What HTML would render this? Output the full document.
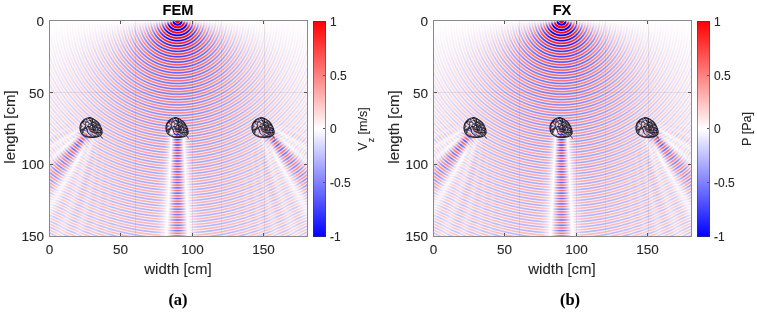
<!DOCTYPE html>
<html><head><meta charset="utf-8">
<style>
*{margin:0;padding:0;box-sizing:border-box}
html,body{width:757px;height:312px;overflow:hidden;background:#fff}
body{-webkit-font-smoothing:antialiased;-webkit-text-stroke:0.1px #262626;position:relative;font-family:"Liberation Sans",sans-serif;color:#262626}
.pn{position:absolute;left:0;top:0;width:757px;height:312px;will-change:transform}
.fld{position:absolute;left:50px;top:21px;width:257px;height:215px;filter:blur(0.4px)}
.box{position:absolute;left:49px;top:20px;width:259px;height:217px;border:1px solid #8a8a8a}
.tk{position:absolute;background:#555}
.gl{position:absolute;background:rgba(40,40,40,.09)}
.lb{position:absolute;font-size:13.5px;line-height:14px;white-space:nowrap}
.ttl{position:absolute;font-weight:bold;font-size:14.6px;line-height:15px;color:#000;white-space:nowrap}
.axl{position:absolute;font-size:15px;line-height:15px;white-space:nowrap}
.cbl{position:absolute;font-size:12.5px;line-height:13px;white-space:nowrap}
.cb{position:absolute;left:313px;top:21px;width:13px;height:216px;border:1px solid rgba(60,60,60,.55);
 background:linear-gradient(to bottom,#ff0000,#ffffff 50%,#0000ff);background-origin:border-box}
.cl{position:absolute;font-size:12px;line-height:12px;white-space:nowrap}
.sub{position:absolute;font-family:"Liberation Serif",serif;font-weight:bold;font-size:16.5px;line-height:17px;color:#000}
.rot{transform-origin:0 0;transform:rotate(-90deg)}
svg{position:absolute;left:0;top:0}
</style></head><body>
<div class="pn" id="p1">
 <canvas class="fld" id="c1" width="257" height="215"></canvas>
 <div class="gl" style="left:135px;top:21px;width:1px;height:215px"></div>
 <div class="gl" style="left:192px;top:21px;width:1px;height:215px"></div>
 <div class="gl" style="left:221px;top:21px;width:1px;height:215px;opacity:.7"></div>
 <div class="gl" style="left:264px;top:21px;width:1px;height:215px"></div>
 <div class="gl" style="left:50px;top:92px;width:257px;height:1px"></div>
 <div class="box"></div>
 <div class="tk" style="left:120px;top:233px;width:1px;height:3px"></div>
 <div class="tk" style="left:120px;top:21px;width:1px;height:3px"></div>
 <div class="tk" style="left:192px;top:233px;width:1px;height:3px"></div>
 <div class="tk" style="left:192px;top:21px;width:1px;height:3px"></div>
 <div class="tk" style="left:263px;top:233px;width:1px;height:3px"></div>
 <div class="tk" style="left:263px;top:21px;width:1px;height:3px"></div>
 <div class="tk" style="left:50px;top:92px;width:3px;height:1px"></div>
 <div class="tk" style="left:304px;top:92px;width:3px;height:1px"></div>
 <div class="tk" style="left:50px;top:164px;width:3px;height:1px"></div>
 <div class="tk" style="left:304px;top:164px;width:3px;height:1px"></div>
 <div class="lb xl" style="left:29px;top:243px;width:41px;text-align:center">0</div>
 <div class="lb xl" style="left:100px;top:243px;width:41px;text-align:center">50</div>
 <div class="lb xl" style="left:172px;top:243px;width:41px;text-align:center">100</div>
 <div class="lb xl" style="left:243px;top:243px;width:41px;text-align:center">150</div>
 <div class="lb yl" style="left:-1px;top:14.5px;width:45px;text-align:right">0</div>
 <div class="lb yl" style="left:-1px;top:86.5px;width:45px;text-align:right">50</div>
 <div class="lb yl" style="left:-1px;top:157.7px;width:45px;text-align:right">100</div>
 <div class="lb yl" style="left:-1px;top:229.5px;width:45px;text-align:right">150</div>
 <div class="ttl" style="left:128px;top:3px;width:100px;text-align:center">FEM</div>
 <div class="axl" style="left:128px;top:261px;width:100px;text-align:center">width [cm]</div>
 <div class="axl rot" style="left:2px;top:177px;width:100px;text-align:center">length [cm]</div>
 <div class="cb"></div>
 <div class="cl" style="left:330px;top:16px">1</div>
 <div class="cl" style="left:330px;top:70px">0.5</div>
 <div class="cl" style="left:330px;top:123px">0</div>
 <div class="cl" style="left:330px;top:177px">-0.5</div>
 <div class="cl" style="left:330px;top:231px">-1</div>
 <div class="tk" style="left:323px;top:75px;width:2px;height:1px"></div>
 <div class="tk" style="left:323px;top:128px;width:2px;height:1px"></div>
 <div class="tk" style="left:323px;top:182px;width:2px;height:1px"></div>
 <div class="cbl rot" style="left:356.5px;top:179px;width:100px;text-align:center">V<span style="font-size:9px;position:relative;top:6.5px">z</span> [m/s]</div>
 <div class="sub" style="left:128px;top:291px;width:100px;text-align:center">(a)</div>
</div>
<div class="pn" id="p2" style="left:384px">
 <canvas class="fld" id="c2" width="257" height="215"></canvas>
 <div class="gl" style="left:135px;top:21px;width:1px;height:215px"></div>
 <div class="gl" style="left:192px;top:21px;width:1px;height:215px"></div>
 <div class="gl" style="left:221px;top:21px;width:1px;height:215px;opacity:.7"></div>
 <div class="gl" style="left:264px;top:21px;width:1px;height:215px"></div>
 <div class="gl" style="left:50px;top:92px;width:257px;height:1px"></div>
 <div class="box"></div>
 <div class="tk" style="left:120px;top:233px;width:1px;height:3px"></div>
 <div class="tk" style="left:120px;top:21px;width:1px;height:3px"></div>
 <div class="tk" style="left:192px;top:233px;width:1px;height:3px"></div>
 <div class="tk" style="left:192px;top:21px;width:1px;height:3px"></div>
 <div class="tk" style="left:263px;top:233px;width:1px;height:3px"></div>
 <div class="tk" style="left:263px;top:21px;width:1px;height:3px"></div>
 <div class="tk" style="left:50px;top:92px;width:3px;height:1px"></div>
 <div class="tk" style="left:304px;top:92px;width:3px;height:1px"></div>
 <div class="tk" style="left:50px;top:164px;width:3px;height:1px"></div>
 <div class="tk" style="left:304px;top:164px;width:3px;height:1px"></div>
 <div class="lb xl" style="left:29px;top:243px;width:41px;text-align:center">0</div>
 <div class="lb xl" style="left:100px;top:243px;width:41px;text-align:center">50</div>
 <div class="lb xl" style="left:172px;top:243px;width:41px;text-align:center">100</div>
 <div class="lb xl" style="left:243px;top:243px;width:41px;text-align:center">150</div>
 <div class="lb yl" style="left:-1px;top:14.5px;width:45px;text-align:right">0</div>
 <div class="lb yl" style="left:-1px;top:86.5px;width:45px;text-align:right">50</div>
 <div class="lb yl" style="left:-1px;top:157.7px;width:45px;text-align:right">100</div>
 <div class="lb yl" style="left:-1px;top:229.5px;width:45px;text-align:right">150</div>
 <div class="ttl" style="left:128px;top:3px;width:100px;text-align:center">FX</div>
 <div class="axl" style="left:128px;top:261px;width:100px;text-align:center">width [cm]</div>
 <div class="axl rot" style="left:2px;top:177px;width:100px;text-align:center">length [cm]</div>
 <div class="cb"></div>
 <div class="cl" style="left:330px;top:16px">1</div>
 <div class="cl" style="left:330px;top:70px">0.5</div>
 <div class="cl" style="left:330px;top:123px">0</div>
 <div class="cl" style="left:330px;top:177px">-0.5</div>
 <div class="cl" style="left:330px;top:231px">-1</div>
 <div class="tk" style="left:323px;top:75px;width:2px;height:1px"></div>
 <div class="tk" style="left:323px;top:128px;width:2px;height:1px"></div>
 <div class="tk" style="left:323px;top:182px;width:2px;height:1px"></div>
 <div class="cbl rot" style="left:356.5px;top:179px;width:100px;text-align:center">P [Pa]</div>
 <div class="sub" style="left:136px;top:291px;width:100px;text-align:center">(b)</div>
</div>
<svg width="757" height="312" style="position:absolute;left:0;top:0" xmlns="http://www.w3.org/2000/svg">
<defs>
<clipPath id="bc"><path d="M-3.0,-9.8C-1.5,-10.0 0.1,-9.4 1.5,-8.8C2.9,-8.2 4.3,-7.1 5.5,-6.0C6.7,-4.9 7.7,-3.5 8.5,-2.0C9.3,-0.5 10.2,1.5 10.5,3.0C10.8,4.5 10.7,6.0 10.0,7.0C9.3,8.0 8.0,8.7 6.5,9.2C5.0,9.7 2.9,9.8 1.0,9.8C-0.9,9.8 -3.2,9.8 -5.0,9.2C-6.8,8.6 -8.4,7.8 -9.5,6.5C-10.6,5.2 -11.3,3.2 -11.5,1.5C-11.7,-0.2 -11.5,-1.9 -10.8,-3.5C-10.1,-5.0 -8.8,-6.8 -7.5,-7.8C-6.2,-8.8 -4.5,-9.6 -3.0,-9.8Z"/></clipPath>
<g id="bl"><g fill="none" stroke="#141420" stroke-linecap="round" stroke-linejoin="round">
<g clip-path="url(#bc)"><path stroke-width="0.85" stroke-opacity="0.9" d="M8.6,0.8C8.4,0.7 8.0,0.1 7.6,-0.0C7.2,-0.2 6.7,-0.1 6.3,-0.1C5.8,-0.1 5.4,-0.2 5.0,-0.1C4.6,-0.1 4.1,0.2 3.7,0.2C3.3,0.1 2.9,-0.2 2.6,-0.4C2.2,-0.7 2.0,-1.1 1.7,-1.4C1.4,-1.7 1.1,-2.0 0.9,-2.4C0.6,-2.8 0.5,-3.4 0.4,-3.6M1.0,-2.8C1.1,-2.7 1.6,-2.2 2.0,-2.1C2.4,-2.0 2.9,-2.3 3.3,-2.3C3.7,-2.4 4.3,-2.1 4.6,-2.3C4.9,-2.5 5.3,-3.0 5.3,-3.4C5.3,-3.7 4.9,-4.1 4.6,-4.4C4.3,-4.7 4.0,-5.1 3.6,-5.3C3.3,-5.5 2.8,-5.5 2.4,-5.6C1.9,-5.7 1.3,-5.9 1.1,-6.0M7.5,-2.5C7.2,-2.5 6.6,-2.6 6.2,-2.8C5.8,-2.9 5.4,-3.2 5.1,-3.4C4.7,-3.6 4.3,-3.8 3.9,-3.9C3.4,-4.1 3.0,-4.1 2.6,-4.3C2.2,-4.5 1.9,-4.8 1.6,-5.1C1.3,-5.4 1.2,-5.9 0.9,-6.2C0.6,-6.5 0.1,-6.6 -0.3,-6.7C-0.7,-6.9 -1.3,-7.1 -1.5,-7.2M5.1,5.0C5.3,5.0 5.9,4.9 6.4,4.9C6.8,5.0 7.2,5.0 7.7,5.1C8.1,5.1 8.5,5.3 8.9,5.2C9.4,5.2 9.8,5.1 10.2,5.0C10.6,4.9 11.2,4.9 11.5,4.6C11.7,4.3 11.7,3.7 11.6,3.3C11.5,2.9 11.1,2.6 10.9,2.2C10.7,1.9 10.5,1.2 10.4,1.0M-2.7,-5.1C-2.9,-5.2 -3.6,-5.5 -4.0,-5.5C-4.4,-5.5 -4.8,-5.2 -5.3,-5.2C-5.7,-5.3 -6.1,-5.5 -6.5,-5.6C-6.9,-5.7 -7.3,-6.1 -7.7,-6.0C-8.1,-6.0 -8.4,-5.4 -8.8,-5.3C-9.2,-5.2 -9.8,-5.3 -10.1,-5.5C-10.4,-5.7 -10.5,-6.3 -10.8,-6.6C-11.0,-7.0 -11.4,-7.5 -11.5,-7.7M0.4,6.3C0.6,6.5 0.9,7.1 1.2,7.4C1.5,7.7 2.0,7.8 2.3,8.1C2.7,8.3 3.0,8.6 3.4,8.7C3.8,8.9 4.3,8.9 4.7,8.8C5.2,8.8 5.7,8.7 6.0,8.4C6.3,8.2 6.3,7.6 6.6,7.3C6.9,7.0 7.4,7.1 7.8,6.9C8.2,6.7 8.8,6.5 9.0,6.4M6.1,2.8C6.1,2.6 6.1,2.0 6.0,1.5C5.9,1.1 5.8,0.7 5.6,0.3C5.4,-0.1 5.3,-0.6 5.0,-0.9C4.7,-1.1 4.1,-1.2 3.7,-1.2C3.3,-1.2 2.8,-0.8 2.5,-0.9C2.1,-1.0 1.9,-1.5 1.5,-1.8C1.2,-2.0 0.7,-2.2 0.3,-2.2C-0.1,-2.2 -0.7,-1.9 -1.0,-1.8M-7.8,1.7C-7.6,1.5 -7.2,1.0 -6.9,0.6C-6.7,0.3 -6.4,-0.1 -6.3,-0.5C-6.1,-0.9 -5.9,-1.4 -6.0,-1.7C-6.2,-2.1 -6.8,-2.2 -7.0,-2.6C-7.3,-2.9 -7.4,-3.3 -7.6,-3.7C-7.8,-4.1 -8.0,-4.5 -8.2,-4.9C-8.3,-5.3 -8.4,-5.8 -8.7,-6.1C-8.9,-6.4 -9.5,-6.8 -9.7,-6.9M-8.8,-1.4C-9.0,-1.3 -9.7,-1.2 -10.0,-0.9C-10.3,-0.6 -10.2,0.0 -10.5,0.3C-10.8,0.5 -11.4,0.5 -11.7,0.7C-12.1,0.9 -12.4,1.2 -12.8,1.5C-13.2,1.7 -13.6,1.8 -14.0,2.0C-14.3,2.2 -14.8,2.4 -15.1,2.6C-15.5,2.9 -15.8,3.2 -16.1,3.5C-16.3,3.8 -16.6,4.5 -16.7,4.6M-9.6,-4.0C-9.5,-4.1 -9.0,-4.6 -8.8,-5.0C-8.7,-5.4 -8.4,-5.9 -8.5,-6.3C-8.6,-6.7 -9.1,-7.0 -9.2,-7.4C-9.3,-7.8 -9.3,-8.3 -9.2,-8.7C-9.0,-9.1 -8.7,-9.4 -8.4,-9.8C-8.2,-10.1 -8.1,-10.6 -7.8,-10.9C-7.5,-11.2 -7.2,-11.6 -6.8,-11.8C-6.5,-12.0 -5.8,-12.0 -5.6,-12.1M0.8,5.0C0.7,4.8 0.5,4.1 0.1,3.8C-0.2,3.6 -0.7,3.7 -1.1,3.4C-1.4,3.2 -1.7,2.8 -2.0,2.5C-2.2,2.1 -2.4,1.7 -2.5,1.3C-2.6,0.9 -2.6,0.3 -2.4,0.0C-2.2,-0.3 -1.6,-0.5 -1.2,-0.5C-0.8,-0.4 -0.5,0.1 -0.1,0.2C0.3,0.3 1.0,0.0 1.2,0.0M-3.2,-2.9C-3.0,-3.0 -2.4,-3.4 -2.0,-3.4C-1.6,-3.5 -1.1,-3.1 -0.7,-3.3C-0.4,-3.4 0.1,-3.9 0.1,-4.3C0.1,-4.6 -0.4,-5.0 -0.6,-5.4C-0.8,-5.7 -1.0,-6.2 -1.1,-6.6C-1.3,-6.9 -1.4,-7.4 -1.6,-7.8C-1.8,-8.1 -2.1,-8.5 -2.3,-8.9C-2.5,-9.2 -2.8,-9.8 -2.9,-10.0M-6.1,1.2C-6.2,1.3 -6.8,1.7 -7.2,1.8C-7.6,2.0 -8.0,2.0 -8.5,2.1C-8.9,2.2 -9.3,2.4 -9.7,2.4C-10.1,2.5 -10.6,2.3 -11.0,2.4C-11.4,2.6 -11.8,2.9 -12.1,3.2C-12.4,3.5 -12.7,3.9 -12.8,4.3C-12.9,4.7 -12.9,5.2 -12.8,5.6C-12.6,6.0 -12.2,6.5 -12.1,6.7M-9.5,2.4C-9.4,2.2 -9.2,1.6 -8.9,1.2C-8.6,0.9 -8.2,0.8 -7.8,0.5C-7.5,0.3 -7.1,0.0 -6.8,-0.3C-6.4,-0.5 -5.9,-0.7 -5.7,-1.0C-5.6,-1.4 -5.6,-1.9 -5.7,-2.3C-5.7,-2.8 -6.0,-3.2 -6.0,-3.6C-6.0,-4.0 -5.8,-4.5 -5.7,-4.9C-5.6,-5.3 -5.5,-5.9 -5.5,-6.2M-7.3,2.6C-7.5,2.5 -8.2,2.1 -8.6,2.2C-8.9,2.3 -9.1,2.9 -9.3,3.3C-9.4,3.7 -9.6,4.2 -9.5,4.6C-9.3,4.9 -8.6,5.3 -8.3,5.2C-8.1,5.1 -8.1,4.4 -8.1,4.0C-8.1,3.5 -8.4,3.1 -8.3,2.7C-8.2,2.3 -7.8,2.0 -7.6,1.6C-7.3,1.3 -6.9,0.8 -6.7,0.6M1.6,-3.2C1.8,-3.1 2.4,-2.9 2.8,-2.7C3.2,-2.5 3.6,-2.4 4.0,-2.2C4.4,-2.1 4.9,-2.0 5.2,-1.8C5.5,-1.5 5.8,-1.1 6.0,-0.8C6.3,-0.4 6.4,0.0 6.5,0.5C6.6,0.9 6.6,1.4 6.8,1.7C7.0,2.1 7.5,2.2 7.8,2.6C8.1,2.9 8.4,3.5 8.5,3.7M2.4,-5.0C2.2,-5.0 1.5,-4.9 1.1,-4.8C0.7,-4.7 0.2,-4.8 -0.2,-4.6C-0.5,-4.4 -0.6,-3.7 -0.9,-3.6C-1.3,-3.4 -1.9,-3.5 -2.2,-3.7C-2.6,-3.9 -2.7,-4.4 -3.0,-4.7C-3.3,-5.1 -3.7,-5.2 -4.0,-5.6C-4.2,-5.9 -4.4,-6.3 -4.5,-6.7C-4.6,-7.2 -4.7,-7.8 -4.8,-8.0M-2.6,-7.0C-2.4,-7.0 -1.7,-6.8 -1.3,-6.9C-0.9,-7.0 -0.5,-7.3 -0.2,-7.6C0.1,-7.9 0.5,-8.2 0.8,-8.5C1.1,-8.8 1.3,-9.3 1.6,-9.4C2.0,-9.6 2.5,-9.6 2.9,-9.6C3.3,-9.6 3.8,-9.6 4.2,-9.5C4.6,-9.5 5.2,-9.6 5.5,-9.4C5.8,-9.2 6.1,-8.5 6.2,-8.4M6.0,2.3C6.1,2.1 6.5,1.6 6.8,1.3C7.2,1.1 7.7,1.0 8.1,0.9C8.5,0.9 9.0,1.0 9.4,1.1C9.8,1.1 10.2,1.2 10.7,1.3C11.1,1.4 11.5,1.6 11.9,1.7C12.3,1.8 12.8,1.8 13.2,1.9C13.6,1.9 14.1,1.9 14.5,1.9C14.9,1.9 15.6,1.9 15.8,2.0M4.4,-0.9C4.6,-1.0 5.2,-1.2 5.6,-1.5C5.9,-1.7 6.1,-2.3 6.4,-2.4C6.8,-2.6 7.3,-2.4 7.7,-2.3C8.1,-2.2 8.5,-2.0 8.9,-1.8C9.3,-1.6 9.7,-1.4 10.1,-1.2C10.5,-1.1 10.9,-0.9 11.4,-0.9C11.8,-0.9 12.1,-1.2 12.5,-1.4C12.9,-1.6 13.5,-1.9 13.7,-2.0M6.6,6.7C6.4,6.8 5.8,6.9 5.4,7.0C4.9,7.1 4.4,7.0 4.1,7.3C3.8,7.5 3.7,8.0 3.5,8.4C3.4,8.8 3.2,9.3 3.1,9.7C3.1,10.1 3.4,10.5 3.4,11.0C3.4,11.4 3.1,11.8 3.0,12.2C3.0,12.6 3.2,13.0 3.2,13.5C3.2,13.9 3.0,14.5 3.0,14.7M-6.5,1.2C-6.2,1.2 -5.6,1.2 -5.2,1.3C-4.8,1.4 -4.2,1.5 -4.0,1.8C-3.8,2.1 -4.0,2.7 -4.0,3.1C-4.0,3.5 -3.9,4.0 -3.8,4.4C-3.7,4.8 -3.7,5.3 -3.5,5.7C-3.2,6.0 -2.8,6.2 -2.5,6.5C-2.2,6.8 -2.0,7.3 -1.6,7.5C-1.3,7.7 -0.6,7.6 -0.3,7.6M-3.8,3.5C-3.9,3.4 -4.6,3.1 -4.8,2.8C-5.0,2.4 -4.9,1.9 -4.9,1.5C-4.9,1.0 -4.9,0.6 -4.8,0.2C-4.6,-0.2 -4.5,-0.8 -4.2,-1.0C-3.9,-1.2 -3.3,-0.9 -2.9,-0.9C-2.5,-1.0 -2.0,-0.9 -1.6,-1.1C-1.2,-1.2 -0.7,-1.3 -0.4,-1.6C-0.2,-1.9 -0.1,-2.6 -0.0,-2.8M0.1,-6.0C0.2,-6.2 0.7,-6.7 0.9,-7.0C1.1,-7.4 1.1,-7.9 1.1,-8.3C1.1,-8.7 1.0,-9.2 0.9,-9.6C0.9,-10.0 1.0,-10.5 1.0,-10.9C1.0,-11.3 0.9,-11.8 0.9,-12.2C0.9,-12.6 0.9,-13.1 0.9,-13.5C1.0,-13.9 1.2,-14.3 1.2,-14.8C1.3,-15.2 1.3,-15.9 1.3,-16.1M2.6,0.6C2.6,0.4 2.8,-0.3 3.0,-0.7C3.2,-1.0 3.5,-1.3 3.8,-1.7C4.1,-2.0 4.6,-2.3 4.6,-2.7C4.7,-3.0 4.3,-3.5 4.2,-3.9C4.2,-4.3 4.4,-4.9 4.2,-5.2C3.9,-5.5 3.3,-5.7 2.9,-5.6C2.5,-5.6 2.2,-5.1 1.8,-5.0C1.4,-4.9 0.7,-5.0 0.5,-5.0M-5.8,0.1C-5.6,0.1 -5.0,-0.0 -4.6,-0.2C-4.2,-0.4 -3.9,-0.8 -3.5,-1.0C-3.1,-1.1 -2.6,-1.4 -2.3,-1.3C-2.0,-1.1 -1.9,-0.5 -1.7,-0.1C-1.5,0.3 -1.5,0.8 -1.3,1.1C-1.0,1.5 -0.7,1.8 -0.3,2.0C0.1,2.2 0.5,2.1 1.0,2.1C1.4,2.1 2.1,2.1 2.3,2.1M5.2,5.3C5.0,5.4 4.4,5.8 4.0,5.8C3.6,5.8 3.1,5.7 2.8,5.5C2.4,5.3 2.1,4.9 1.9,4.5C1.8,4.1 2.0,3.6 1.9,3.2C1.8,2.8 1.5,2.4 1.5,2.0C1.4,1.6 1.5,1.1 1.4,0.7C1.4,0.2 1.4,-0.2 1.3,-0.6C1.2,-1.0 1.0,-1.6 0.9,-1.9M8.4,1.5C8.5,1.7 8.9,2.3 9.1,2.7C9.3,3.0 9.5,3.4 9.6,3.8C9.6,4.3 9.2,4.8 9.4,5.1C9.5,5.5 10.0,5.8 10.3,6.0C10.7,6.2 11.2,6.2 11.6,6.3C12.0,6.4 12.4,6.5 12.8,6.7C13.2,6.9 13.5,7.3 13.9,7.5C14.3,7.7 14.9,7.8 15.1,7.9M4.1,2.3C3.8,2.3 3.2,2.5 2.8,2.4C2.3,2.4 1.9,2.2 1.6,2.0C1.2,1.8 0.9,1.2 0.5,1.2C0.2,1.1 -0.2,1.7 -0.6,1.8C-1.0,1.8 -1.5,1.6 -1.9,1.4C-2.2,1.2 -2.7,0.9 -2.9,0.5C-3.1,0.2 -2.9,-0.3 -3.0,-0.7C-3.1,-1.2 -3.3,-1.8 -3.4,-2.0M-1.8,3.5C-1.6,3.7 -1.1,4.2 -0.8,4.3C-0.4,4.4 0.1,4.0 0.5,4.1C0.9,4.2 1.3,4.5 1.7,4.7C2.0,5.0 2.3,5.4 2.7,5.6C3.0,5.7 3.5,5.7 4.0,5.7C4.4,5.6 4.8,5.5 5.2,5.4C5.6,5.2 6.0,5.0 6.4,4.8C6.7,4.6 7.3,4.2 7.5,4.1M1.0,-6.8C1.0,-6.6 1.0,-5.9 0.9,-5.5C0.9,-5.1 1.0,-4.6 0.9,-4.2C0.8,-3.8 0.3,-3.5 0.2,-3.1C0.2,-2.7 0.5,-2.3 0.7,-1.9C0.8,-1.5 0.9,-1.0 1.1,-0.7C1.4,-0.3 1.7,0.1 2.0,0.3C2.4,0.5 2.9,0.4 3.3,0.6C3.6,0.8 4.1,1.3 4.2,1.5M-0.7,1.9C-0.5,2.0 0.0,2.4 0.4,2.6C0.8,2.8 1.2,3.1 1.6,3.1C2.0,3.2 2.5,3.0 2.9,3.1C3.3,3.1 3.7,3.4 4.1,3.5C4.6,3.6 5.0,3.6 5.4,3.8C5.8,3.9 6.1,4.3 6.5,4.5C6.9,4.7 7.2,5.1 7.6,5.2C8.0,5.3 8.7,5.1 8.9,5.0M5.1,0.1C4.9,0.2 4.4,0.6 4.1,0.9C3.8,1.2 3.3,1.4 3.2,1.8C3.0,2.1 3.4,2.6 3.4,3.0C3.4,3.5 3.1,3.9 3.1,4.3C3.2,4.7 3.4,5.3 3.7,5.5C4.0,5.7 4.6,5.5 5.0,5.5C5.4,5.5 5.9,5.4 6.3,5.5C6.7,5.7 7.2,6.2 7.3,6.3M1.6,0.9C1.7,1.1 2.0,1.7 2.4,2.0C2.7,2.2 3.1,2.4 3.5,2.5C4.0,2.6 4.4,2.5 4.8,2.5C5.3,2.6 5.6,2.9 6.1,3.0C6.5,3.0 6.9,2.8 7.4,2.9C7.8,2.9 8.2,3.1 8.6,3.1C9.1,3.0 9.5,2.8 9.8,2.5C10.1,2.3 10.3,1.6 10.4,1.4"/></g>
<path stroke-width="0.8" stroke-opacity="0.85" d="M-2.8,-9.1C-2.4,-9.3 -2.0,-9.2 -1.5,-9.2C-1.1,-9.2 -0.7,-9.2 -0.2,-8.9C0.2,-8.7 0.9,-8.0 1.3,-7.8C1.8,-7.6 1.9,-7.9 2.4,-7.7C2.8,-7.5 3.5,-6.8 3.9,-6.5C4.4,-6.2 4.7,-6.5 5.0,-6.1C5.4,-5.7 5.7,-4.8 5.9,-4.4C6.2,-3.9 6.2,-3.8 6.4,-3.5C6.6,-3.3 6.9,-3.1 7.1,-2.6C7.4,-2.2 7.6,-1.4 7.8,-0.8C8.1,-0.2 8.3,0.4 8.6,0.9C8.9,1.4 9.7,1.9 9.7,2.3C9.8,2.7 8.9,3.0 8.9,3.5C8.9,3.9 9.6,4.5 9.6,4.9C9.6,5.3 9.1,5.6 8.9,5.9C8.7,6.2 8.5,6.5 8.4,6.7C8.3,7.0 8.3,7.1 8.0,7.4C7.7,7.7 7.1,8.4 6.6,8.6C6.1,8.9 5.5,8.7 5.0,8.7C4.5,8.8 4.2,8.9 3.6,9.0C3.0,9.0 1.9,9.2 1.4,9.1C0.9,9.1 1.0,8.6 0.6,8.6C0.1,8.6 -0.7,8.8 -1.4,9.0C-2.2,9.1 -3.2,9.6 -3.8,9.5C-4.4,9.3 -4.5,8.2 -5.0,7.9C-5.4,7.6 -6.1,7.9 -6.6,7.7C-7.1,7.5 -7.6,7.2 -8.0,6.9C-8.5,6.6 -8.9,6.4 -9.1,5.9C-9.3,5.4 -9.0,4.5 -9.2,3.9C-9.4,3.3 -10.0,3.0 -10.3,2.4C-10.5,1.9 -10.6,1.1 -10.7,0.6C-10.8,0.1 -10.9,-0.2 -10.7,-0.5C-10.6,-0.9 -10.1,-1.1 -10.0,-1.6C-10.0,-2.1 -10.7,-3.1 -10.5,-3.8C-10.3,-4.4 -9.1,-5.1 -8.8,-5.5C-8.4,-5.9 -8.5,-5.9 -8.1,-6.2C-7.8,-6.4 -6.9,-6.8 -6.5,-7.1C-6.1,-7.5 -6.1,-8.0 -5.7,-8.1C-5.3,-8.3 -4.8,-7.9 -4.3,-8.1C-3.8,-8.2 -3.3,-8.9 -2.8,-9.1Z"/>
<path stroke-width="1.15" stroke-opacity="0.95" d="M-3.0,-9.8C-1.5,-10.0 0.1,-9.4 1.5,-8.8C2.9,-8.2 4.3,-7.1 5.5,-6.0C6.7,-4.9 7.7,-3.5 8.5,-2.0C9.3,-0.5 10.2,1.5 10.5,3.0C10.8,4.5 10.7,6.0 10.0,7.0C9.3,8.0 8.0,8.7 6.5,9.2C5.0,9.7 2.9,9.8 1.0,9.8C-0.9,9.8 -3.2,9.8 -5.0,9.2C-6.8,8.6 -8.4,7.8 -9.5,6.5C-10.6,5.2 -11.3,3.2 -11.5,1.5C-11.7,-0.2 -11.5,-1.9 -10.8,-3.5C-10.1,-5.0 -8.8,-6.8 -7.5,-7.8C-6.2,-8.8 -4.5,-9.6 -3.0,-9.8Z"/>
<path stroke-width="0.8" d="M8.8,8.2C9.8,8.9 10.5,9.7 10.9,10.6"/>
</g></g>
</defs>
<use href="#bl" x="91.5" y="127.5"/><use href="#bl" x="177.5" y="127.5"/><use href="#bl" x="263.5" y="127.5"/>
<use href="#bl" x="475.5" y="127.5"/><use href="#bl" x="561.5" y="127.5"/><use href="#bl" x="647.5" y="127.5"/>
</svg>
<script>
(function(){
var LX=5.6, LY=5.35, lam=3.7, k=2*Math.PI/lam, A0=3.9, DB=1.6, AL=0.013, ph0=-1.75;
var PX0=177.5, PY0=20.5;
function X(px){return (px-PX0)/LX*lam;} function Y(py){return (py-PY0)/LY*lam;}
var SC=[[X(91.5),Y(127.5)],[X(177.5),Y(127.5)],[X(263.5),Y(127.5)]];
var AW=5.5, APW=4, DPHI=3.0, NA=61, GAIN=0.6, T0=0;
var MODE=2, PWS=1.3, PBS=1.0, PW=3.6, PB=-1.0, PBC=-2.0, PD0=1.6, PD1=0.45, PBEND=0.5, PLB=8, PT0=2;
function inc(x,y,o){var r=Math.sqrt(x*x+y*y)+1e-3;
  var c=Math.abs(y)/r; var a=A0*Math.sin(DB*c)/Math.sin(DB)*Math.exp(-AL*r*(1-c*c))/Math.sqrt(r+0.3), ph=k*r+ph0; o[0]=a*Math.cos(ph); o[1]=a*Math.sin(ph);}
var AP=SC.map(function(c){
  var L=Math.hypot(c[0],c[1]),ux=c[0]/L,uy=c[1]/L,vx=-uy,vy=ux;
  var pr=[],re=[],im=[],o=[0,0], span=2.2*AW, dq=2*span/(NA-1);
  for(var q=0;q<NA;q++){var p=-span+q*dq; var env=Math.exp(-Math.pow(Math.abs(p/AW),APW)), ph=DPHI*env, g=1+GAIN*env;
    inc(c[0]+p*vx+T0*ux,c[1]+p*vy+T0*uy,o); var er=g*Math.cos(ph)-1, ei=g*Math.sin(ph);
    pr.push(p); re.push((o[0]*er-o[1]*ei)*dq); im.push((o[0]*ei+o[1]*er)*dq);}
  return {cx:c[0]+T0*ux,cy:c[1]+T0*uy,ux:ux,uy:uy,vx:vx,vy:vy,p:pr,re:re,im:im};
});
var W=257,H=215,ss=2;
var buf=new Uint8ClampedArray(W*H*4), o=[0,0];
var kk=Math.sqrt(k/(2*Math.PI));
for(var j=0;j<H;j++)for(var i=0;i<W;i++){
  var R=0,G=0,B=0;
  for(var sj=0;sj<ss;sj++)for(var si=0;si<ss;si++){
    var x=X(50+i+(si+0.5)/ss), y=Y(21+j+(sj+0.5)/ss);
    inc(x,y,o); var ur=o[0], ui=o[1];
    for(var s=0;s<3;s++){ if(MODE==1 || (MODE==2 && s==1)) continue;
      var A=AP[s], ex=x-A.cx, ey=y-A.cy, t=ex*A.ux+ey*A.uy;
      if(t<=0.5) continue; var p=ex*A.vx+ey*A.vy;
      if(Math.abs(p)>0.9*t+20) continue;
      var sr=0,si2=0;
      for(var q=0;q<NA;q++){var d=p-A.p[q], rho=Math.sqrt(t*t+d*d);
        var f=kk/Math.sqrt(rho)*(t/rho), ph=k*rho-0.7853981634, c=Math.cos(ph)*f, sn=Math.sin(ph)*f;
        sr+=A.re[q]*c-A.im[q]*sn; si2+=A.re[q]*sn+A.im[q]*c;}
      ur+=sr; ui+=si2;}
    for(var s=0;s<3;s++){ if(MODE==0 || (MODE==2 && s!=1)) continue;
      var A=AP[s], ex=x-A.cx, ey=y-A.cy, t=ex*A.ux+ey*A.uy;
      if(t<=-4) continue; var p=Math.abs(ex*A.vx+ey*A.vy);
      var sd=(s!=1), L=Math.hypot(A.cx,A.cy), w=PW*(sd?PWS:1)*(L+t)/L, tt=Math.max(t,0), dl=PD0+PD1*Math.sqrt(tt);
      var Sg=0.5*(1-Math.tanh((p-w)/dl)), Rr=Math.min(1,Math.max(0,(t+4)/(PT0+4)));
      Sg*=Rr; var q2=p/w, pb=(PB+(PBC-PB)*Math.max(0,1-q2*q2))*(sd?PBS:1); var mr=1-(1-pb)*Sg, mi=0;
      if(p>w){var bb=PBEND*Math.exp(-(p-w)/PLB)*Rr*Math.min(1,tt/10); var cb=Math.cos(bb), sb=Math.sin(bb); var nr=mr*cb-mi*sb; mi=mr*sb+mi*cb; mr=nr;}
      var nr2=ur*mr-ui*mi; ui=ur*mi+ui*mr; ur=nr2;}
    var v=ur; if(v>1)v=1; if(v<-1)v=-1;
    if(v>=0){R+=1;G+=1-v;B+=1-v;}else{R+=1+v;G+=1+v;B+=1;}
  }
  var n=ss*ss, oo=(j*W+i)*4;
  buf[oo]=R/n*255; buf[oo+1]=G/n*255; buf[oo+2]=B/n*255; buf[oo+3]=255;
}
['c1','c2'].forEach(function(id){var cv=document.getElementById(id),ctx=cv.getContext('2d');
  var im=ctx.createImageData(W,H); im.data.set(buf); ctx.putImageData(im,0,0);});
})();
</script>
</body></html>
